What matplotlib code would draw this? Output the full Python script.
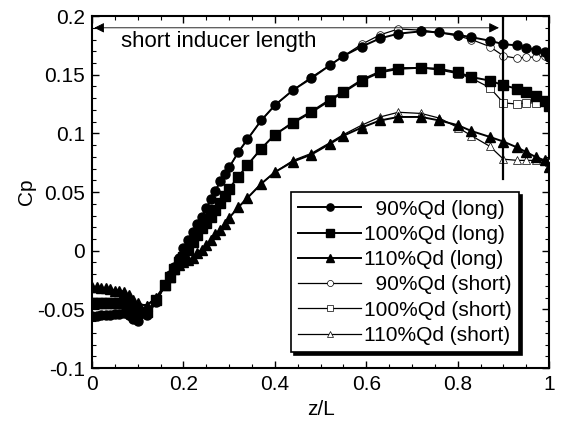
import matplotlib
matplotlib.use('Agg')
import matplotlib.pyplot as plt
from matplotlib.ticker import MultipleLocator

plt.rcParams['font.family'] = ['Liberation Sans', 'DejaVu Sans']

# z/L stations
z = [0.00, 0.01, 0.02, 0.03, 0.04, 0.05, 0.06, 0.07, 0.08, 0.09, 0.10, 0.12, 0.14,
     0.16, 0.17, 0.18, 0.19, 0.20, 0.21, 0.22, 0.23, 0.24, 0.25, 0.26, 0.27, 0.28,
     0.29, 0.30, 0.32, 0.34, 0.37, 0.40, 0.44, 0.48, 0.52, 0.55, 0.59, 0.63, 0.67,
     0.72, 0.76, 0.80, 0.83, 0.87, 0.90, 0.93, 0.95, 0.97, 0.99, 1.00]

# long inducer
cp90_long = [-0.056, -0.056, -0.055, -0.055, -0.055, -0.054, -0.054, -0.053, -0.055, -0.058, -0.060, -0.055, -0.044,
             -0.029, -0.021, -0.014, -0.006, 0.002, 0.009, 0.016, 0.023, 0.029, 0.036, 0.044, 0.051, 0.059,
             0.065, 0.071, 0.084, 0.095, 0.111, 0.124, 0.137, 0.147, 0.158, 0.166, 0.174, 0.181, 0.185,
             0.187, 0.186, 0.184, 0.182, 0.179, 0.176, 0.175, 0.173, 0.171, 0.169, 0.165]
cp100_long = [-0.045, -0.045, -0.045, -0.045, -0.045, -0.045, -0.045, -0.045, -0.047, -0.050, -0.052, -0.052, -0.042,
              -0.029, -0.022, -0.016, -0.010, -0.005, 0.001, 0.007, 0.013, 0.019, 0.024, 0.029, 0.035, 0.041,
              0.047, 0.053, 0.063, 0.073, 0.087, 0.099, 0.109, 0.118, 0.128, 0.135, 0.145, 0.152, 0.155,
              0.156, 0.155, 0.152, 0.148, 0.145, 0.141, 0.138, 0.135, 0.132, 0.128, 0.123]
cp110_long = [-0.031, -0.031, -0.032, -0.032, -0.033, -0.034, -0.034, -0.035, -0.038, -0.042, -0.045, -0.047, -0.040,
              -0.029, -0.022, -0.016, -0.012, -0.010, -0.008, -0.006, -0.002, 0.001, 0.005, 0.009, 0.014, 0.018,
              0.023, 0.028, 0.037, 0.045, 0.057, 0.067, 0.076, 0.082, 0.091, 0.098, 0.105, 0.111, 0.114,
              0.114, 0.111, 0.107, 0.102, 0.097, 0.093, 0.088, 0.084, 0.080, 0.077, 0.071]

# short inducer
cp90_short = [-0.056, -0.056, -0.055, -0.055, -0.055, -0.054, -0.054, -0.053, -0.056, -0.058, -0.059, -0.055, -0.044,
              -0.029, -0.021, -0.014, -0.006, 0.002, 0.009, 0.016, 0.023, 0.029, 0.036, 0.044, 0.051, 0.059,
              0.065, 0.071, 0.084, 0.095, 0.111, 0.124, 0.137, 0.148, 0.158, 0.166, 0.176, 0.184, 0.189,
              0.188, 0.186, 0.183, 0.180, 0.174, 0.166, 0.164, 0.165, 0.165, 0.166, 0.166]
cp100_short = [-0.045, -0.045, -0.045, -0.045, -0.045, -0.045, -0.045, -0.045, -0.048, -0.051, -0.053, -0.051, -0.042,
               -0.029, -0.022, -0.016, -0.010, -0.005, 0.001, 0.007, 0.013, 0.019, 0.024, 0.029, 0.035, 0.041,
               0.047, 0.053, 0.063, 0.073, 0.087, 0.099, 0.110, 0.119, 0.129, 0.136, 0.146, 0.153, 0.156,
               0.156, 0.154, 0.151, 0.147, 0.139, 0.126, 0.125, 0.126, 0.126, 0.127, 0.127]
cp110_short = [-0.031, -0.031, -0.032, -0.032, -0.033, -0.034, -0.034, -0.035, -0.039, -0.043, -0.046, -0.046, -0.040,
               -0.029, -0.022, -0.016, -0.012, -0.010, -0.008, -0.006, -0.002, 0.001, 0.005, 0.009, 0.014, 0.018,
               0.023, 0.028, 0.037, 0.045, 0.057, 0.067, 0.077, 0.083, 0.092, 0.099, 0.107, 0.114, 0.118,
               0.117, 0.113, 0.105, 0.098, 0.089, 0.078, 0.077, 0.077, 0.077, 0.077, 0.076]

labels = ['  90%Qd (long)', '100%Qd (long)', '110%Qd (long)',
          '  90%Qd (short)', '100%Qd (short)', '110%Qd (short)']

FS = 15

fig = plt.figure(figsize=(5.61, 4.23), dpi=100)
ax = fig.add_axes([0.164, 0.130, 0.815, 0.832])

ax.plot(z, cp90_long, color='black', lw=1.4, marker='o', ms=6.5, label=labels[0], zorder=4)
ax.plot(z, cp100_long, color='black', lw=1.4, marker='s', ms=6.5, label=labels[1], zorder=4)
ax.plot(z, cp110_long, color='black', lw=1.4, marker='^', ms=6.5, label=labels[2], zorder=4)
ax.plot(z, cp90_short, color='black', lw=0.9, marker='o', ms=5.5, mfc='white', mew=0.5, label=labels[3], zorder=3)
ax.plot(z, cp100_short, color='black', lw=0.9, marker='s', ms=5.5, mfc='white', mew=0.5, label=labels[4], zorder=3)
ax.plot(z, cp110_short, color='black', lw=0.9, marker='^', ms=5.5, mfc='white', mew=0.5, label=labels[5], zorder=3)

# end of the short inducer
ax.plot([0.9, 0.9], [0.061, 0.2], color='black', lw=1.6, zorder=5)
ax.annotate('', xy=(0.005, 0.190), xytext=(0.89, 0.190),
            arrowprops=dict(arrowstyle='<|-|>', color='black', lw=0.6,
                            mutation_scale=15, shrinkA=0, shrinkB=0))
ax.text(0.063, 0.178, 'short inducer length', fontsize=16, va='center', ha='left')

ax.set_xlim(0, 1)
ax.set_ylim(-0.1, 0.2)
ax.set_xticks([0, 0.2, 0.4, 0.6, 0.8, 1])
ax.set_xticklabels(['0', '0.2', '0.4', '0.6', '0.8', '1'])
ax.set_yticks([-0.1, -0.05, 0, 0.05, 0.1, 0.15, 0.2])
ax.set_yticklabels(['-0.1', '-0.05', '0', '0.05', '0.1', '0.15', '0.2'])
ax.xaxis.set_minor_locator(MultipleLocator(0.05))
ax.yaxis.set_minor_locator(MultipleLocator(0.01))
ax.tick_params(which='both', direction='in', top=True, right=True, labelsize=FS)
ax.tick_params(which='major', length=5, width=1, pad=5)
ax.tick_params(which='minor', length=3, width=0.8)
for s in ax.spines.values():
    s.set_linewidth(1.5)

ax.set_xlabel('z/L', fontsize=FS, labelpad=4)
ax.set_ylabel('Cp', fontsize=FS, labelpad=1)

leg = ax.legend(loc='lower right', bbox_to_anchor=(0.934, 0.045), borderaxespad=0,
                fontsize=FS, fancybox=False, edgecolor='black', framealpha=1,
                handlelength=3.0, labelspacing=0.3, handletextpad=0.15,
                borderpad=0.35, markerscale=0.8,
                shadow={'color': 'black', 'alpha': 1})
leg.get_frame().set_linewidth(1.2)
leg.set_zorder(6)

fig.savefig('out.png', dpi=100)
